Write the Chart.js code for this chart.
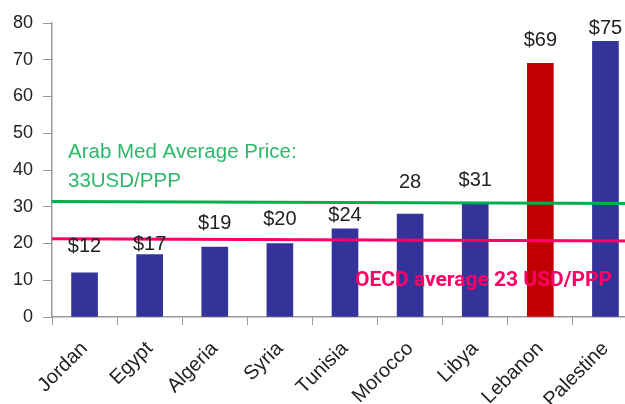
<!DOCTYPE html>
<html>
<head>
<meta charset="utf-8">
<script src="https://cdn.jsdelivr.net/npm/chart.js@4.4.1/dist/chart.umd.min.js"></script>
<style>
  html, body { margin: 0; padding: 0; background: #fff; overflow: hidden; }
  #wrap { width: 645px; height: 404px; }
</style>
</head>
<body>
<div id="wrap"><canvas id="chart"></canvas></div>
<script>
// data
const countries = ["Jordan", "Egypt", "Algeria", "Syria", "Tunisia", "Morocco", "Libya", "Lebanon", "Palestine"];
const prices = [12, 17, 19, 20, 24, 28, 31, 69, 75];
const priceLabels = ["$12", "$17", "$19", "$20", "$24", "28", "$31", "$69", "$75"];
const yTicks = [0, 10, 20, 30, 40, 50, 60, 70, 80];
// the two reference lines are drawn slightly tilted in the original
const arabMedLine = [31.4, 30.9];
const oecdLine = [21.3, 20.7];

// layout only: how high each value label sits above its bar (px)
const labelLift = [26, 10, 24, 24, 13, 32, 23, 23, 13];

const navy = "#333399";
const red = "#C00000";
const green = "#00B050";
const pink = "#FF0066";

const barColors = countries.map(c => c === "Lebanon" ? red : navy);

const valueLabels = {
    id: "valueLabels",
    afterDatasetsDraw(chart) {
        const ctx = chart.ctx;
        const meta = chart.getDatasetMeta(0);
        ctx.save();
        ctx.font = "20px 'Liberation Sans', Arial, sans-serif";
        ctx.fillStyle = "#222";
        ctx.textAlign = "center";
        ctx.textBaseline = "middle";
        meta.data.forEach((bar, i) => {
            ctx.fillText(priceLabels[i], bar.x, bar.y - labelLift[i]);
        });
        ctx.restore();
    }
};

const notes = {
    id: "notes",
    afterDraw(chart) {
        const ctx = chart.ctx;
        ctx.save();
        ctx.textAlign = "left";
        ctx.textBaseline = "alphabetic";
        ctx.font = "20.5px 'Liberation Sans', Arial, sans-serif";
        ctx.fillStyle = "#2DB86A";
        ctx.fillText("Arab Med Average Price:", 68, 158);
        ctx.fillText("33USD/PPP", 68, 187);
        ctx.font = "bold 21px Roboto, 'Liberation Sans', sans-serif";
        ctx.fillStyle = pink;
        ctx.fillText("OECD average 23 USD/PPP", 355, 286);
        ctx.restore();
    }
};

new Chart(document.getElementById("chart"), {
    type: "bar",
    data: {
        labels: countries,
        datasets: [
            {
                data: prices,
                backgroundColor: barColors,
                barThickness: 26,
                grouped: false,
                order: 2
            },
            {
                type: "line",
                xAxisID: "x2",
                data: [{ x: 0, y: arabMedLine[0] }, { x: 1, y: arabMedLine[1] }],
                borderColor: green,
                borderWidth: 3,
                pointRadius: 0,
                clip: false,
                order: 1
            },
            {
                type: "line",
                xAxisID: "x2",
                data: [{ x: 0, y: oecdLine[0] }, { x: 1, y: oecdLine[1] }],
                borderColor: pink,
                borderWidth: 3,
                pointRadius: 0,
                clip: false,
                order: 1
            }
        ]
    },
    options: {
        responsive: true,
        maintainAspectRatio: false,
        animation: false,
        layout: { padding: { top: 23, right: 7, left: 0, bottom: 0 } },
        plugins: {
            legend: { display: false },
            tooltip: { enabled: false }
        },
        scales: {
            x: {
                grid: {
                    display: true,
                    drawOnChartArea: false,
                    drawTicks: true,
                    tickLength: 8,
                    color: "#999",
                    offset: true
                },
                border: { color: "#999", width: 1.5 },
                ticks: {
                    color: "#222",
                    font: { family: "'Liberation Sans', Arial, sans-serif", size: 20 },
                    minRotation: 45,
                    maxRotation: 45,
                    padding: 12,
                    autoSkip: false
                },
                afterFit(scale) { scale.height = 87; }
            },
            x2: {
                type: "linear",
                display: false,
                offset: false,
                min: 0,
                max: 1
            },
            y: {
                min: 0,
                max: 80,
                afterBuildTicks(scale) { scale.ticks = yTicks.map(v => ({ value: v })); },
                grid: {
                    display: true,
                    drawOnChartArea: false,
                    drawTicks: true,
                    tickLength: 9,
                    color: "#999"
                },
                border: { color: "#999", width: 1.5 },
                ticks: {
                    color: "#222",
                    font: { family: "'Liberation Sans', Arial, sans-serif", size: 18 },
                    padding: 10
                },
                afterFit(scale) { scale.width = 52; }
            }
        }
    },
    plugins: [valueLabels, notes]
});
</script>
</body>
</html>
